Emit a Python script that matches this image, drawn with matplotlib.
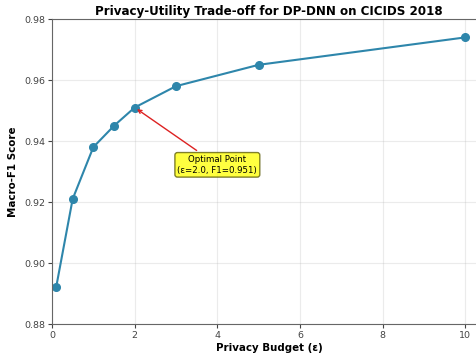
import matplotlib
matplotlib.use("Agg")
import matplotlib.pyplot as plt

# privacy budgets and resulting macro-F1
epsilons = [0.1, 0.5, 1.0, 1.5, 2.0, 3.0, 5.0, 10.0]
f1_scores = [0.892, 0.921, 0.938, 0.945, 0.951, 0.958, 0.965, 0.974]
best_eps = 2.0
best_f1 = 0.951

fig = plt.figure(figsize=(4.77, 3.6), dpi=100)
ax = fig.add_axes([0.109, 0.1, 0.91, 0.847])

ax.plot(epsilons, f1_scores, marker='o', color='#2E86AB', linewidth=1.5, markersize=5.5)

ax.annotate(f'Optimal Point\n(ε={best_eps}, F1={best_f1})',
            xy=(best_eps, best_f1), xytext=(4.0, 0.9322),
            ha='center', va='center', fontsize=6.2,
            bbox=dict(boxstyle='round,pad=0.3', facecolor='yellow', edgecolor='#555500', alpha=0.75),
            arrowprops=dict(arrowstyle='->', color='#dd2222', lw=1))

ax.set_title('Privacy-Utility Trade-off for DP-DNN on CICIDS 2018', fontsize=8.6, fontweight='bold', pad=3)
ax.set_xlabel('Privacy Budget (ε)', fontsize=7.4, fontweight='bold', labelpad=2)
ax.set_ylabel('Macro-F1 Score', fontsize=7.4, fontweight='bold')
ax.set_xlim(0, 10.5)
ax.set_ylim(0.88, 0.98)
ax.set_xticks([0, 2, 4, 6, 8, 10])
ax.set_yticks([0.88, 0.90, 0.92, 0.94, 0.96, 0.98])
ax.tick_params(labelsize=6.8, colors='#444444', length=3, pad=2)
for s in ax.spines.values():
    s.set_color('#666666')
ax.grid(True, alpha=0.25)

fig.savefig('out.png', dpi=100)
